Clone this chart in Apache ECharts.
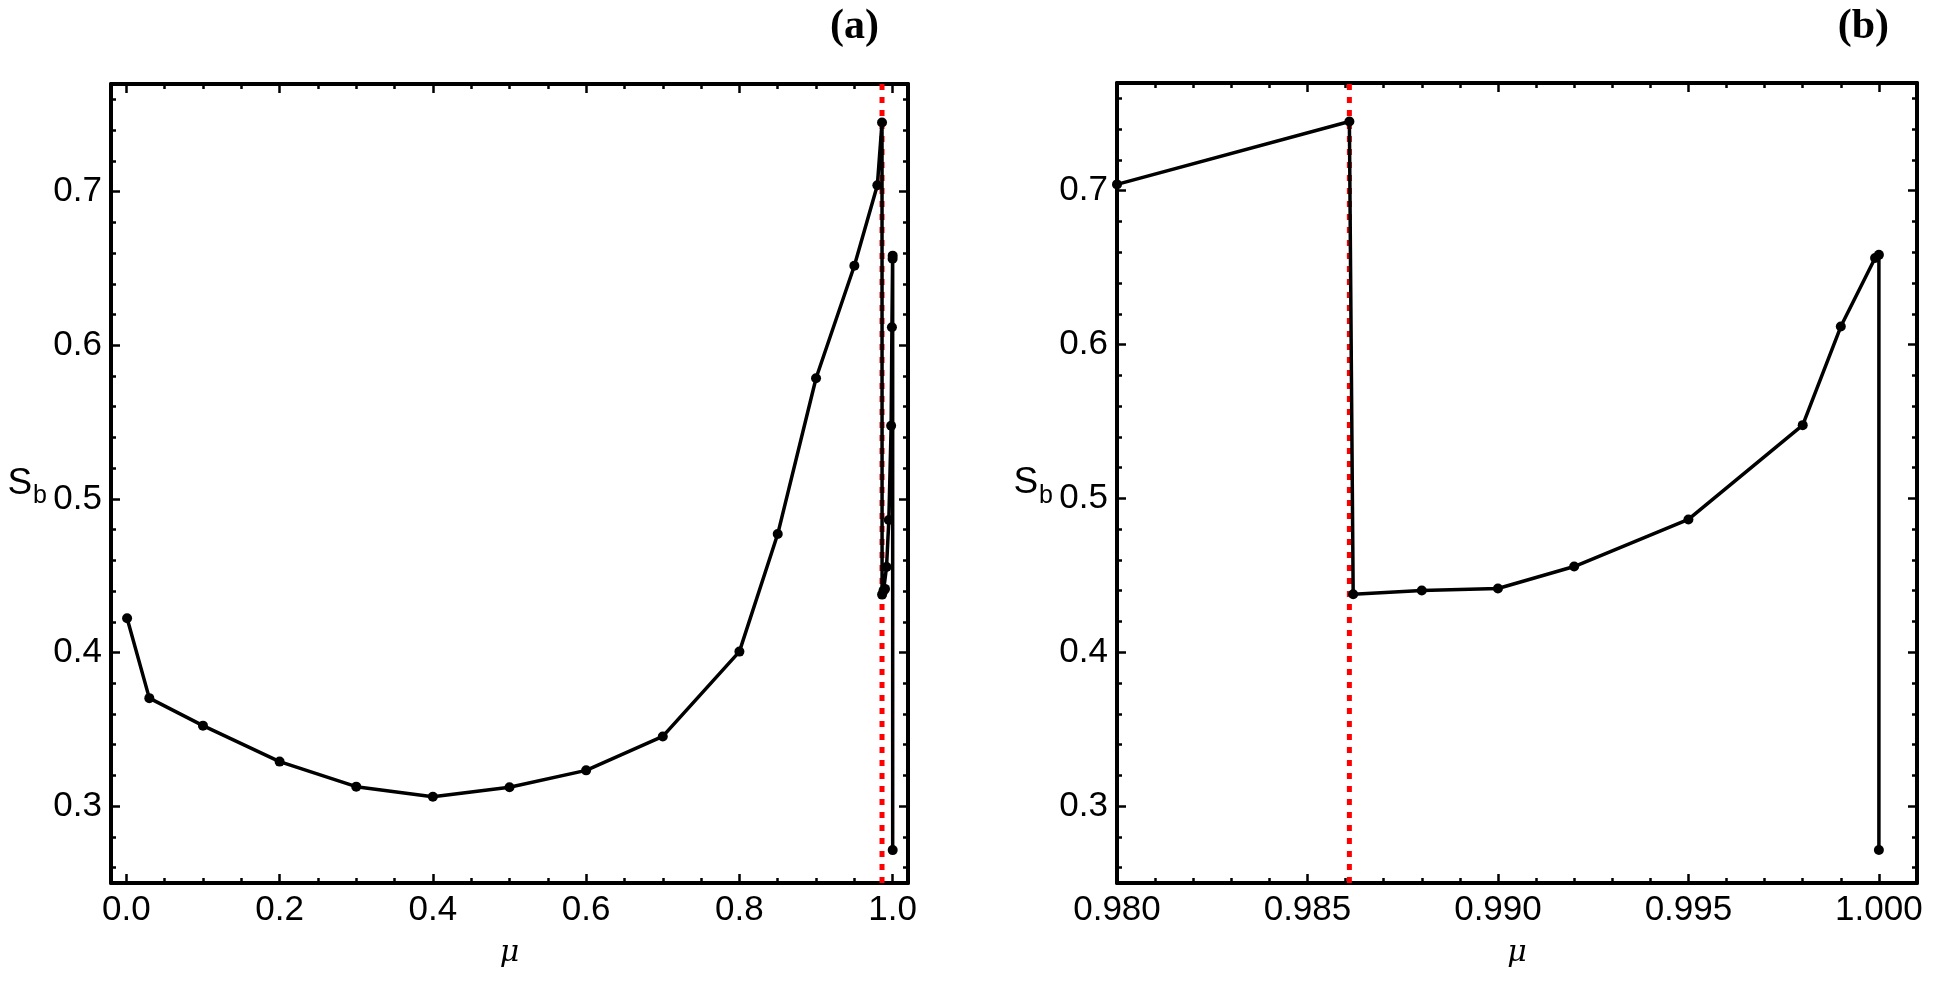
<!DOCTYPE html>
<html>
<head>
<meta charset="utf-8">
<script src="https://cdn.jsdelivr.net/npm/echarts@6/dist/echarts.min.js"></script>
<style>
html,body{margin:0;padding:0;background:#fff;}
#c{width:1933px;height:987px;}
</style>
</head>
<body>
<div id="c"></div>
<script>
// ---- data ----
const mu = [0.001, 0.03, 0.1, 0.2, 0.3, 0.4, 0.5, 0.6, 0.7, 0.8, 0.85, 0.9, 0.95, 0.98,
            0.9861, 0.9862, 0.988, 0.99, 0.992, 0.995, 0.998, 0.999, 0.9999, 1.0, 1.0];
const sb = [0.4223, 0.3703, 0.3524, 0.3290, 0.3127, 0.3061, 0.3123, 0.3233, 0.3454, 0.4006, 0.4771, 0.5785, 0.6517, 0.7041,
            0.7450, 0.4377, 0.4401, 0.4414, 0.4557, 0.4863, 0.5476, 0.6117, 0.6563, 0.6583, 0.2714];
const muCrit = 0.9861;

const xTicksA = [0, 0.2, 0.4, 0.6, 0.8, 1.0];
const xTicksB = [0.980, 0.985, 0.990, 0.995, 1.000];
const yTicks = [0.3, 0.4, 0.5, 0.6, 0.7];
const xMinorStepA = 0.05, xMinorStepB = 0.001, yMinorStep = 0.02;

const xRangeA = [-0.02, 1.02];
const xRangeB = [0.98, 1.001];
const yRange = [0.25, 0.77];

function steps(lo, hi, st) {
  const out = [];
  const n0 = Math.ceil(lo / st - 1e-9), n1 = Math.floor(hi / st + 1e-9);
  for (let n = n0; n <= n1; n++) out.push(+(n * st).toFixed(6));
  return out;
}

const pts = mu.map((m, i) => [m, sb[i]]);
const critLine = [[muCrit, yRange[0]], [muCrit, yRange[1]]];

const LABEL_FONT = 'Liberation Sans';
const lineW = 4;

function axisPair(kind, gridIndex, range, major, minor, pos, showLabel, fmt, extra) {
  const base = {
    type: 'value', gridIndex: gridIndex, min: range[0], max: range[1], position: pos,
    splitLine: {show: false}, minorTick: {show: false}, minorSplitLine: {show: false}
  };
  const a1 = Object.assign({}, base, {
    axisLine: {show: true, onZero: false, lineStyle: {color: '#000', width: lineW}},
    axisTick: {show: true, inside: true, length: 9, customValues: major, lineStyle: {color: '#000', width: 2.5}},
    axisLabel: showLabel ? {show: true, customValues: major, formatter: fmt, color: '#000',
      fontFamily: LABEL_FONT, fontSize: 35, margin: kind === 'x' ? 10 : 9} : {show: false}
  }, extra || {});
  const a2 = Object.assign({}, base, {
    axisLine: {show: false, onZero: false},
    axisTick: {show: true, inside: true, length: 5, customValues: minor, lineStyle: {color: '#000', width: 2.5}},
    axisLabel: {show: false}
  });
  return [a1, a2];
}

const muName = {
  name: 'μ', nameLocation: 'middle', nameGap: 55,
  nameTextStyle: {fontFamily: 'DejaVu Serif', fontStyle: 'italic', fontSize: 30, color: '#000'}
};
const sbName = {
  name: '{s|S}{b|b}', nameLocation: 'middle', nameRotate: 0, nameGap: 64,
  nameTextStyle: {color: '#000', rich: {
    s: {fontFamily: LABEL_FONT, fontSize: 37, color: '#000'},
    b: {fontFamily: LABEL_FONT, fontSize: 25, color: '#000', verticalAlign: 'bottom', padding: [0, 0, -7, 1]}
  }}
};

const xMinorA = steps(xRangeA[0], xRangeA[1], xMinorStepA);
const xMinorB = steps(xRangeB[0], xRangeB[1], xMinorStepB);
const yMinor = steps(yRange[0], yRange[1], yMinorStep);

const xAxes = [].concat(
  axisPair('x', 0, xRangeA, xTicksA, xMinorA, 'bottom', true, v => v.toFixed(1), muName),
  axisPair('x', 0, xRangeA, xTicksA, xMinorA, 'top', false),
  axisPair('x', 1, xRangeB, xTicksB, xMinorB, 'bottom', true, v => v.toFixed(3), muName),
  axisPair('x', 1, xRangeB, xTicksB, xMinorB, 'top', false)
);
const yAxes = [].concat(
  axisPair('y', 0, yRange, yTicks, yMinor, 'left', true, v => v.toFixed(1), sbName),
  axisPair('y', 0, yRange, yTicks, yMinor, 'right', false),
  axisPair('y', 1, yRange, yTicks, yMinor, 'left', true, v => v.toFixed(1), sbName),
  axisPair('y', 1, yRange, yTicks, yMinor, 'right', false)
);

function dataSeries(xi, yi) {
  return {
    type: 'line', xAxisIndex: xi, yAxisIndex: yi, data: pts, clip: true, z: 5,
    symbol: 'circle', symbolSize: 10, showSymbol: true,
    lineStyle: {color: '#000', width: 3.5}, itemStyle: {color: '#000'},
    animation: false
  };
}
function critSeries(xi, yi) {
  return {
    type: 'line', xAxisIndex: xi, yAxisIndex: yi, data: critLine, clip: true, z: 4,
    symbol: 'none', lineStyle: {color: '#ff0000', width: 5, type: [6, 7]}, animation: false
  };
}

const chart = echarts.init(document.getElementById('c'), null, {renderer: 'canvas'});
chart.setOption({
  backgroundColor: '#fff',
  animation: false,
  grid: [
    {left: 111, top: 84, width: 797, height: 799, containLabel: false},
    {left: 1117, top: 83, width: 800, height: 800, containLabel: false}
  ],
  xAxis: xAxes,
  yAxis: yAxes,
  series: [critSeries(0, 0), dataSeries(0, 0), critSeries(4, 4), dataSeries(4, 4)],
  graphic: [
    {type: 'text', style: {text: '(a)', x: 879, y: 6, textAlign: 'right', textVerticalAlign: 'top',
      font: 'bold 42px "Liberation Serif"', fill: '#000'}},
    {type: 'text', style: {text: '(b)', x: 1889, y: 6, textAlign: 'right', textVerticalAlign: 'top',
      font: 'bold 42px "Liberation Serif"', fill: '#000'}}
  ]
});
</script>
</body>
</html>
